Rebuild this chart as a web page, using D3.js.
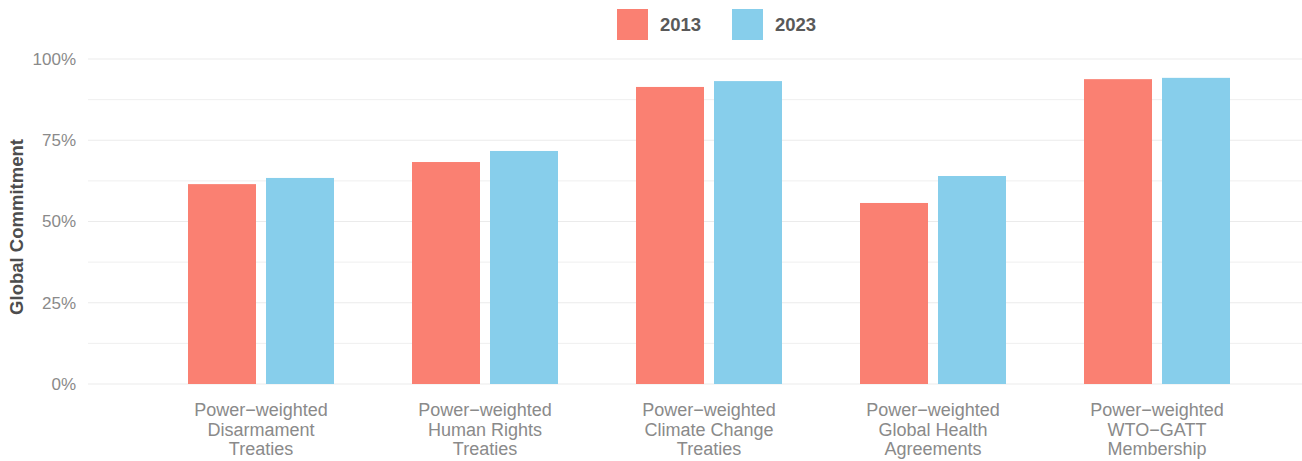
<!DOCTYPE html>
<html>
<head>
<meta charset="utf-8">
<script src="https://cdn.jsdelivr.net/npm/d3@7"></script>
<style>
  body { margin: 0; background: #fff; }
  text { font-family: "Liberation Sans", Arial, Helvetica, sans-serif; }
</style>
</head>
<body>
<script>
// data
var categories = [
    ["Power\u2212weighted", "Disarmament", "Treaties"],
    ["Power\u2212weighted", "Human Rights", "Treaties"],
    ["Power\u2212weighted", "Climate Change", "Treaties"],
    ["Power\u2212weighted", "Global Health", "Agreements"],
    ["Power\u2212weighted", "WTO\u2212GATT", "Membership"]
];
var years = ["2013", "2023"];
var values2013 = [0.615, 0.683, 0.914, 0.557, 0.938];
var values2023 = [0.634, 0.717, 0.932, 0.640, 0.942];
var yTicks = [0, 0.25, 0.5, 0.75, 1];
var yMinor = [0.125, 0.375, 0.625, 0.875];
var colors = ["#FA8072", "#87CEEB"];

var width = 1302, height = 461;
var svg = d3.select("body").append("svg")
    .attr("width", width)
    .attr("height", height);

var panelLeft = 88, panelRight = 1302;

var keys = categories.map(function(d, i) { return "c" + i; });
var x0 = d3.scaleBand().domain(keys).range([149, 1269]).padding(0);
var x1 = d3.scaleBand().domain(years).range([0, 146]).paddingInner(10 / 78).paddingOuter(0);
var y = d3.scaleLinear().domain([0, 1]).range([384, 59]);

// ====== GRID ======
svg.selectAll(".minor").data(yMinor).enter().append("line")
    .attr("x1", panelLeft).attr("x2", panelRight)
    .attr("y1", function(d) { return y(d); })
    .attr("y2", function(d) { return y(d); })
    .style("stroke", "#efefef").style("stroke-width", 1);

svg.selectAll(".major").data(yTicks).enter().append("line")
    .attr("x1", panelLeft).attr("x2", panelRight)
    .attr("y1", function(d) { return y(d); })
    .attr("y2", function(d) { return y(d); })
    .style("stroke", "#ebebeb").style("stroke-width", 1.2);

// ====== Y AXIS ======
var yAxis = d3.axisLeft(y).tickValues(yTicks)
    .tickFormat(function(d) { return Math.round(d * 100) + "%"; })
    .tickSize(0).tickPadding(0);
var ya = svg.append("g").attr("transform", "translate(76,0)").call(yAxis);
ya.select(".domain").remove();
ya.selectAll("text")
    .style("font-size", "17px")
    .style("fill", "#8a8a8a")
    .style("font-family", "'Liberation Sans', Arial, sans-serif");

svg.append("text")
    .attr("transform", "translate(23,227) rotate(-90)")
    .attr("text-anchor", "middle")
    .style("font-size", "18.5px")
    .style("font-weight", "bold")
    .style("fill", "#4d4d4d")
    .text("Global Commitment");

// ====== BARS ======
var groups = svg.selectAll(".grp").data(keys).enter().append("g")
    .attr("class", "grp")
    .attr("transform", function(d) { return "translate(" + (x0(d) + (x0.bandwidth() - 146) / 2) + ",0)"; });

groups.selectAll("rect")
    .data(function(d, i) {
        return [{ year: "2013", v: values2013[i] }, { year: "2023", v: values2023[i] }];
    })
    .enter().append("rect")
    .attr("x", function(d) { return x1(d.year); })
    .attr("width", x1.bandwidth())
    .attr("y", function(d) { return y(d.v); })
    .attr("height", function(d) { return y(0) - y(d.v); })
    .style("fill", function(d) { return d.year === "2013" ? colors[0] : colors[1]; });

// ====== X LABELS ======
var xl = svg.selectAll(".xlab").data(categories).enter().append("text")
    .attr("text-anchor", "middle")
    .attr("x", function(d, i) { return x0(keys[i]) + x0.bandwidth() / 2; })
    .attr("y", 416)
    .style("font-size", "18px")
    .style("fill", "#8a8a8a");
xl.selectAll("tspan").data(function(d) { return d; }).enter().append("tspan")
    .attr("x", function() { return d3.select(this.parentNode).attr("x"); })
    .attr("dy", function(d, i) { return i === 0 ? 0 : 19.5; })
    .text(function(d) { return d; });

// ====== LEGEND ======
var legendX = [617, 732];
var leg = svg.selectAll(".leg").data(years).enter().append("g")
    .attr("transform", function(d, i) { return "translate(" + legendX[i] + ",9)"; });
leg.append("rect")
    .attr("width", 31).attr("height", 31)
    .style("fill", function(d, i) { return colors[i]; });
leg.append("text")
    .attr("x", 43).attr("y", 22)
    .style("font-size", "18.5px")
    .style("font-weight", "bold")
    .style("fill", "#595959")
    .text(function(d) { return d; });
</script>
</body>
</html>
